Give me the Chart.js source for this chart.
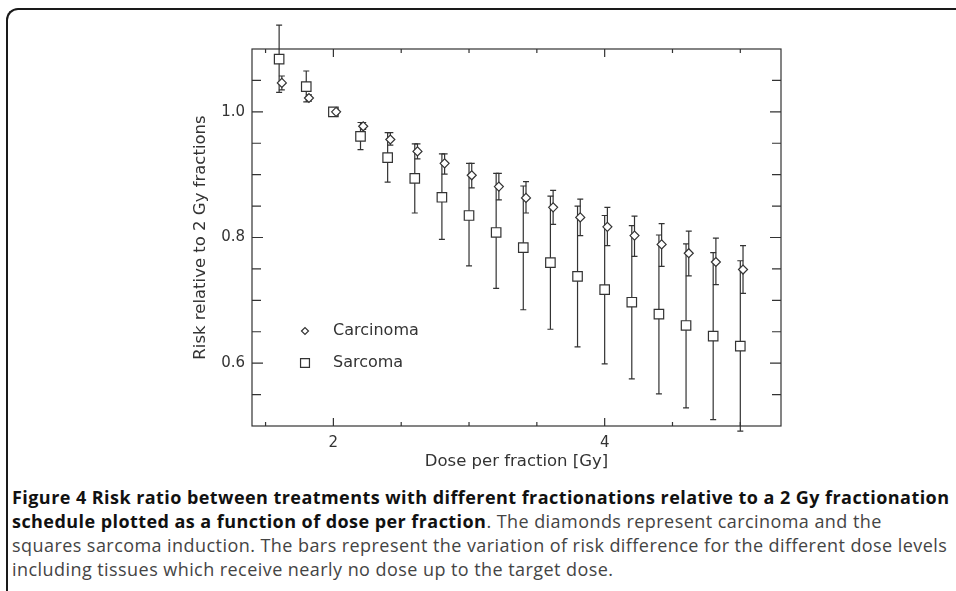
<!DOCTYPE html>
<html>
<head>
<meta charset="utf-8">
<script src="https://cdn.jsdelivr.net/npm/chart.js@4.4.1/dist/chart.umd.min.js"></script>
<style>
  html, body { margin: 0; padding: 0; background: #fff; }
  body { width: 956px; height: 591px; position: relative; overflow: hidden; }
  .frame {
    position: absolute; left: 6px; top: 8px; right: -20px; bottom: -20px;
    border-left: 2px solid #1a1a1a; border-top: 2px solid #1a1a1a;
    border-top-left-radius: 12px;
  }
  #chart { position: absolute; left: 0; top: 0; }
  .caption {
    position: absolute; left: 12px; top: 485px;
    font-family: 'Open Sans', sans-serif; font-size: 18px; line-height: 24px;
    letter-spacing: 0.44px; color: #444; white-space: nowrap;
  }
  .caption b { color: #111; }
</style>
</head>
<body>
<div class="frame"></div>
<canvas id="chart" width="956" height="480"></canvas>
<div class="caption">
  <b>Figure 4 Risk ratio between treatments with different fractionations relative to a 2 Gy fractionation</b><br>
  <b>schedule plotted as a function of dose per fraction</b>. The diamonds represent carcinoma and the<br>
  squares sarcoma induction. The bars represent the variation of risk difference for the different dose levels<br>
  including tissues which receive nearly no dose up to the target dose.
</div>
<script>
// dose per fraction (Gy); diamonds are plotted slightly to the right of the squares
const sarcomaDose   = [1.6, 1.8, 2.0, 2.2, 2.4, 2.6, 2.8, 3.0, 3.2, 3.4, 3.6, 3.8, 4.0, 4.2, 4.4, 4.6, 4.8, 5.0];
const carcinomaDose = [1.62, 1.82, 2.02, 2.22, 2.42, 2.62, 2.82, 3.02, 3.22, 3.42, 3.62, 3.82, 4.02, 4.22, 4.42, 4.62, 4.82, 5.02];

// risk relative to 2 Gy fractions, with the upper / lower end of each bar
const sarcomaRisk = [1.084, 1.040, 1.0, 0.961, 0.927, 0.894, 0.864, 0.835, 0.808, 0.784, 0.760, 0.738, 0.717, 0.697, 0.678, 0.660, 0.643, 0.627];
const sarcomaHigh = [1.138, 1.065, null, 0.983, 0.967, 0.949, 0.933, 0.918, 0.902, 0.882, 0.866, 0.850, 0.835, 0.819, 0.804, 0.790, 0.776, 0.763];
const sarcomaLow  = [1.031, 1.016, null, 0.940, 0.888, 0.839, 0.797, 0.755, 0.719, 0.685, 0.654, 0.626, 0.599, 0.575, 0.551, 0.529, 0.510, 0.492];

const carcinomaRisk = [1.046, 1.022, 1.0, 0.977, 0.956, 0.937, 0.918, 0.899, 0.881, 0.863, 0.848, 0.832, 0.817, 0.803, 0.789, 0.775, 0.761, 0.749];
const carcinomaHigh = [1.057, 1.027, null, 0.983, 0.967, 0.949, 0.933, 0.918, 0.902, 0.889, 0.875, 0.861, 0.848, 0.834, 0.822, 0.810, 0.799, 0.787];
const carcinomaLow  = [1.035, 1.017, null, 0.972, 0.947, 0.925, 0.901, 0.879, 0.860, 0.839, 0.821, 0.803, 0.787, 0.770, 0.754, 0.739, 0.725, 0.711];

// axis ticks
const xTickValues = [1.5, 2, 2.5, 3, 3.5, 4, 4.5, 5];
const xTickLabels = ['', '2', '', '', '', '4', '', ''];
const yTickValues = [0.55, 0.6, 0.65, 0.7, 0.75, 0.8, 0.85, 0.9, 0.95, 1.0, 1.05];
const yTickLabels = ['', '0.6', '', '', '', '0.8', '', '', '', '1.0', ''];
const xMajor = [2, 4];
const yMajor = [0.6, 0.8, 1.0];

const ink = '#333';

function toPoints(xs, ys, lo, hi) {
    return xs.map((x, i) => ({ x: x, y: ys[i], yMin: lo[i], yMax: hi[i] }));
}

// bars with small caps, drawn through the chart's own scales
const errorBars = {
    id: 'errorBars',
    beforeDatasetsDraw(chart) {
        const { ctx, scales: { x, y } } = chart;
        ctx.save();
        ctx.strokeStyle = ink;
        ctx.lineWidth = 1.2;
        chart.data.datasets.forEach(ds => {
            ds.data.forEach(p => {
                if (p.yMin == null) return;
                const px = x.getPixelForValue(p.x);
                const top = y.getPixelForValue(p.yMax);
                const bot = y.getPixelForValue(p.yMin);
                ctx.beginPath();
                ctx.moveTo(px, top); ctx.lineTo(px, bot);
                ctx.moveTo(px - 3, top); ctx.lineTo(px + 3, top);
                ctx.moveTo(px - 3, bot); ctx.lineTo(px + 3, bot);
                ctx.stroke();
            });
        });
        ctx.restore();
    }
};

// box around the plot with inward ticks on all four sides, plus the legend
const frameAndLegend = {
    id: 'frameAndLegend',
    afterDraw(chart) {
        const { ctx, chartArea: a, scales: { x, y } } = chart;
        ctx.save();
        ctx.strokeStyle = ink;
        ctx.lineWidth = 1.2;
        ctx.strokeRect(a.left, a.top, a.right - a.left, a.bottom - a.top);
        ctx.beginPath();
        xTickValues.forEach(v => {
            const px = x.getPixelForValue(v);
            const len = xMajor.includes(v) ? 8 : 4;
            ctx.moveTo(px, a.bottom); ctx.lineTo(px, a.bottom - len);
            ctx.moveTo(px, a.top); ctx.lineTo(px, a.top + len);
        });
        yTickValues.forEach(v => {
            const py = y.getPixelForValue(v);
            const len = yMajor.some(m => Math.abs(m - v) < 1e-9) ? 11 : 9;
            ctx.moveTo(a.left, py); ctx.lineTo(a.left + len, py);
            ctx.moveTo(a.right, py); ctx.lineTo(a.right - len, py);
        });
        ctx.stroke();

        // legend
        const lx = a.left + 53;
        const items = [
            { label: chart.data.datasets[0].label, style: 'rectRot', radius: 3.5, y: a.top + 282 },
            { label: chart.data.datasets[1].label, style: 'rect', radius: 6.3, y: a.top + 314 }
        ];
        ctx.font = '16px "DejaVu Sans"';
        ctx.textBaseline = 'middle';
        items.forEach(it => {
            ctx.fillStyle = '#fff';
            ctx.strokeStyle = ink;
            Chart.helpers.drawPoint(ctx, {
                pointStyle: it.style, radius: it.radius, borderWidth: 1.2
            }, lx, it.y);
            ctx.fillStyle = ink;
            ctx.fillText(it.label, lx + 28, it.y);
        });
        ctx.restore();
    }
};

Chart.defaults.font.family = '"DejaVu Sans", sans-serif';
Chart.defaults.color = ink;

new Chart(document.getElementById('chart').getContext('2d'), {
    type: 'scatter',
    data: {
        datasets: [
            {
                label: 'Carcinoma',
                data: toPoints(carcinomaDose, carcinomaRisk, carcinomaLow, carcinomaHigh),
                pointStyle: 'rectRot',
                pointRadius: 4.5,
                borderWidth: 1.2,
                borderColor: ink,
                backgroundColor: '#fff'
            },
            {
                label: 'Sarcoma',
                data: toPoints(sarcomaDose, sarcomaRisk, sarcomaLow, sarcomaHigh),
                pointStyle: 'rect',
                pointRadius: 6.7,
                borderWidth: 1.2,
                borderColor: ink,
                backgroundColor: '#fff'
            }
        ]
    },
    options: {
        responsive: false,
        animation: false,
        layout: { padding: { left: 191, right: 175, top: 49, bottom: 8 } },
        plugins: {
            legend: { display: false },
            tooltip: { enabled: false }
        },
        scales: {
            x: {
                type: 'linear',
                min: 1.4,
                max: 5.3,
                grid: { display: false, drawTicks: false },
                border: { display: false },
                afterBuildTicks: s => { s.ticks = xTickValues.map(v => ({ value: v })); },
                afterFit: s => { s.height = 46; },
                ticks: {
                    autoSkip: false,
                    maxRotation: 0,
                    padding: 8,
                    font: { size: 15 },
                    callback: (v, i) => xTickLabels[i]
                },
                title: {
                    display: true,
                    text: 'Dose per fraction [Gy]',
                    font: { size: 16.5 },
                    padding: 0
                }
            },
            y: {
                type: 'linear',
                min: 0.5,
                max: 1.1,
                grid: { display: false, drawTicks: false },
                border: { display: false },
                afterBuildTicks: s => { s.ticks = yTickValues.map(v => ({ value: v })); },
                afterFit: s => { s.width = 61; },
                ticks: {
                    autoSkip: false,
                    padding: 7,
                    font: { size: 15 },
                    callback: (v, i) => yTickLabels[i]
                },
                title: {
                    display: true,
                    text: 'Risk relative to 2 Gy fractions',
                    font: { size: 16.5 },
                    padding: 0
                }
            }
        }
    },
    plugins: [errorBars, frameAndLegend]
});
</script>
</body>
</html>
